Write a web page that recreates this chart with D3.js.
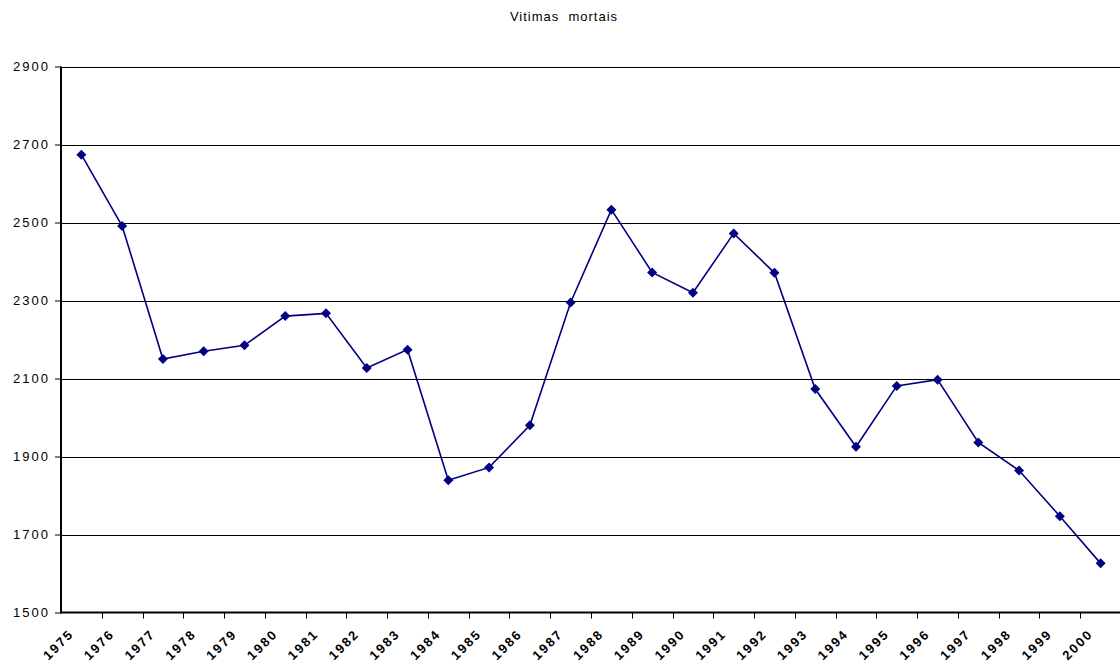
<!DOCTYPE html>
<html>
<head>
<meta charset="utf-8">
<script src="https://cdn.jsdelivr.net/npm/d3@7/dist/d3.min.js"></script>
<style>
  html, body { margin: 0; padding: 0; background: #fff; }
  svg { display: block; }
  text { font-family: "Liberation Sans", Arial, sans-serif; }
</style>
</head>
<body>
<svg id="chart" width="1120" height="668"></svg>
<script>
const years = ["1975","1976","1977","1978","1979","1980","1981","1982","1983","1984","1985","1986","1987","1988","1989","1990","1991","1992","1993","1994","1995","1996","1997","1998","1999","2000"];
const deaths = [2674,2491,2150,2170,2185,2260,2267,2127,2174,1839,1872,1980,2295,2533,2372,2320,2472,2371,2073,1925,2081,2097,1936,1864,1747,1626];
const yTicks = [1500,1700,1900,2100,2300,2500,2700,2900];
const title = "Vitimas  mortais";

(function () {
const svg = d3.select("#chart");
const pLeft = 61, pRight = 1121, pTop = 66.5, pBottom = 612.5;

const x = d3.scaleBand().domain(years).range([pLeft, pRight]).padding(0);
const y = d3.scaleLinear().domain([1500, 2900]).range([pBottom, pTop]);

// gridlines
svg.append("g").selectAll("line").data(yTicks.filter(d => d > 1500)).join("line")
  .attr("x1", pLeft).attr("x2", 1120)
  .attr("y1", d => Math.round(y(d)) + 0.5).attr("y2", d => Math.round(y(d)) + 0.5)
  .attr("stroke", "#000").attr("stroke-width", 1);

// y axis
const yAxis = d3.axisLeft(y).tickValues(yTicks).tickSize(6).tickPadding(7).tickFormat(d3.format("d"));
const gy = svg.append("g").attr("transform", `translate(${pLeft},0)`).call(yAxis);
gy.select(".domain").remove();
gy.selectAll(".tick line").attr("stroke", "#000");
gy.selectAll("text").attr("font-size", 13).attr("fill", "#000").attr("dx", "2px")
  .style("letter-spacing", "2px");
svg.append("line").attr("x1", pLeft).attr("x2", pLeft).attr("y1", pTop).attr("y2", pBottom + 1)
  .attr("stroke", "#000").attr("stroke-width", 2);

// x axis
const gx = svg.append("g").attr("transform", `translate(0,${pBottom})`);
gx.append("line").attr("x1", pLeft).attr("x2", 1120).attr("y1", 0).attr("y2", 0)
  .attr("stroke", "#000").attr("stroke-width", 2);
const tickPos = years.map(d => x(d)).concat([x(years[years.length-1]) + x.bandwidth()]);
gx.selectAll("line.tk").data(tickPos.slice(1)).join("line").attr("class","tk")
  .attr("x1", d => Math.round(d) + 0.5).attr("x2", d => Math.round(d) + 0.5)
  .attr("y1", 0).attr("y2", 6).attr("stroke", "#000");
gx.selectAll("text").data(years).join("text")
  .attr("transform", d => `translate(${x(d) + x.bandwidth()/2 - 10},${19}) rotate(-45)`)
  .attr("text-anchor", "end")
  .attr("dy", "0.35em")
  .attr("font-size", 13)
  .attr("font-weight", "bold")
  .attr("fill", "#000")
  .style("letter-spacing", "2px")
  .text(d => d);

// line
const line = d3.line().x((d, i) => x(years[i]) + x.bandwidth()/2).y(d => y(d));
svg.append("path").datum(deaths).attr("d", line)
  .attr("fill", "none").attr("stroke", "#000080").attr("stroke-width", 1.6);

// markers
svg.append("g").selectAll("path").data(deaths).join("path")
  .attr("d", d3.symbol().type(d3.symbolSquare).size(50))
  .attr("transform", (d, i) => `translate(${x(years[i]) + x.bandwidth()/2},${y(d)}) rotate(45)`)
  .attr("fill", "#000080");

// title
svg.append("text").attr("x", 564).attr("y", 21).attr("text-anchor", "middle")
  .attr("font-size", 13).attr("fill", "#000").style("white-space", "pre")
  .style("letter-spacing", "1px")
  .text(title);
})();
</script>
</body>
</html>
